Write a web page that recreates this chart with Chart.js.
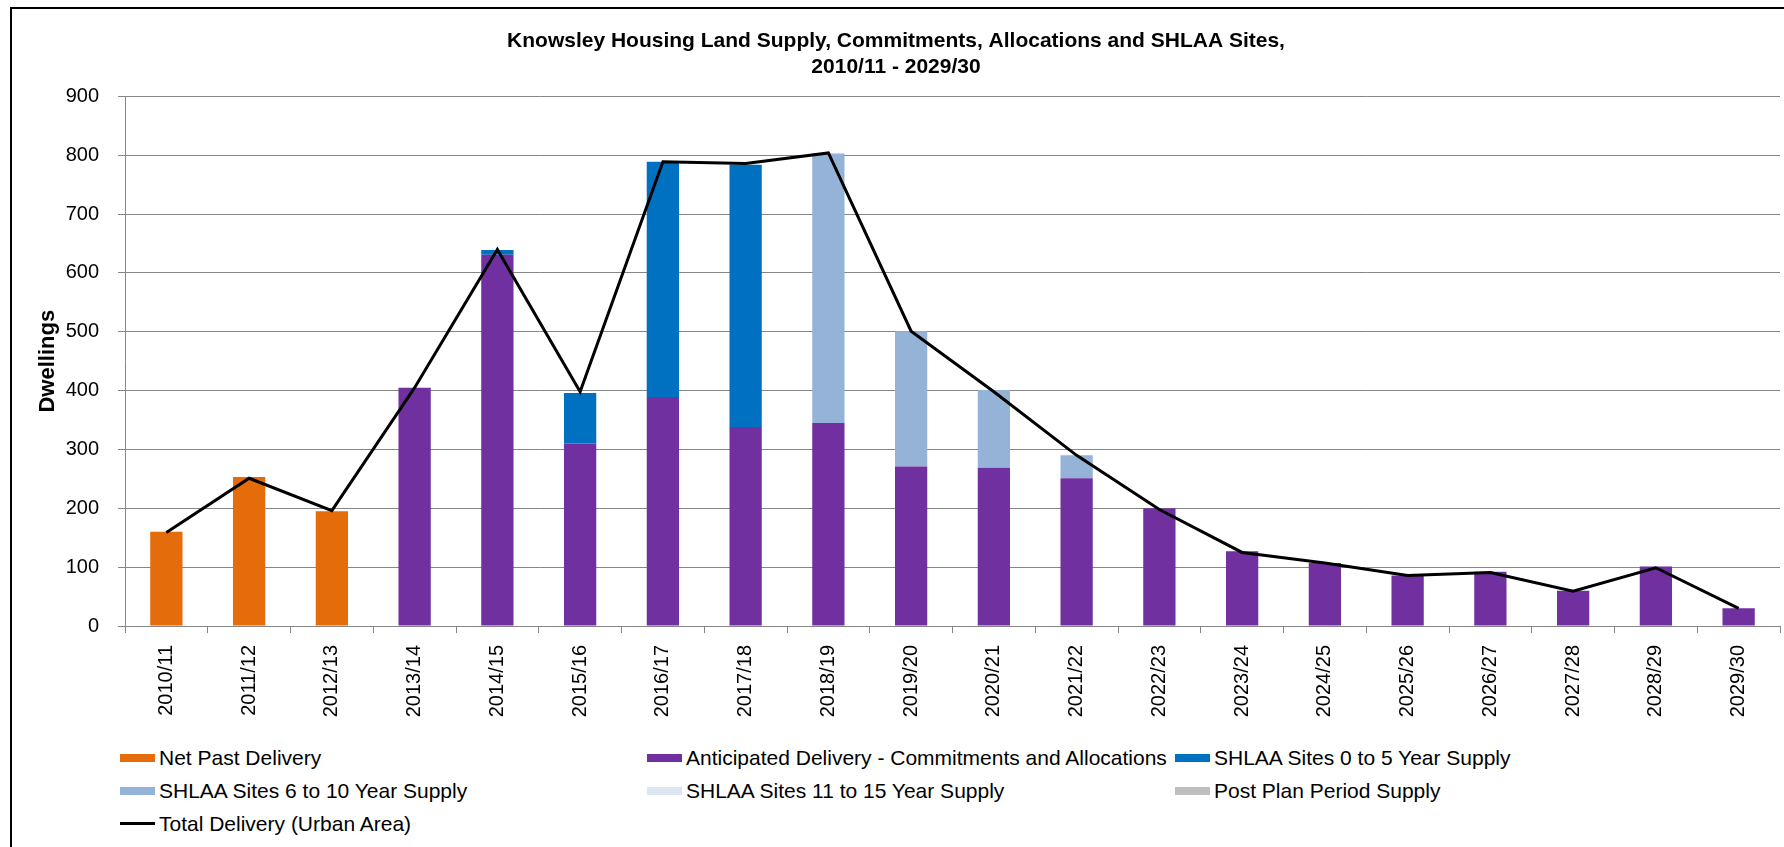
<!DOCTYPE html>
<html>
<head>
<meta charset="utf-8">
<script src="https://cdn.jsdelivr.net/npm/chart.js@4.4.1/dist/chart.umd.min.js"></script>
<style>
  html, body { margin: 0; padding: 0; background: #fff; overflow: hidden; }
  body { width: 1784px; height: 847px; position: relative; font-family: "Liberation Sans", Arial, sans-serif; }
  #frame { position: absolute; left: 10px; top: 7px; width: 1776px; height: 860px; border: 2px solid #000; }
  #wrap { position: absolute; left: 12px; top: 9px; width: 1774px; height: 720px; }
  #legend { position: absolute; left: 120px; top: 741px; display: grid;
            grid-template-columns: 527px 528px 500px; grid-auto-rows: 33px; }
  #legend .item { display: flex; align-items: center; font-size: 21px; color: #000; white-space: nowrap; }
  #legend .box { width: 35px; height: 8px; margin-right: 4px; flex: none; }
  #legend .ln { width: 35px; height: 3px; margin-right: 4px; flex: none; }
</style>
</head>
<body>
<div id="frame"></div>
<div id="wrap"><canvas id="chart"></canvas></div>
<div id="legend"></div>
<script>
// Knowsley housing land supply 2010/11 - 2029/30
const years = ['2010/11','2011/12','2012/13','2013/14','2014/15','2015/16','2016/17','2017/18','2018/19','2019/20',
               '2020/21','2021/22','2022/23','2023/24','2024/25','2025/26','2026/27','2027/28','2028/29','2029/30'];

const netPast      = [160, 253, 195, 0, 0, 0, 0, 0, 0, 0, 0, 0, 0, 0, 0, 0, 0, 0, 0, 0];
const anticipated  = [0, 0, 0, 405, 631, 310, 389, 338, 345, 271, 269, 251, 200, 127, 107, 86, 92, 60, 101, 30];
const shlaa0to5    = [0, 0, 0, 0, 8, 86, 400, 446, 0, 0, 0, 0, 0, 0, 0, 0, 0, 0, 0, 0];
const shlaa6to10   = [0, 0, 0, 0, 0, 0, 0, 0, 458, 230, 132, 39, 0, 0, 0, 0, 0, 0, 0, 0];
const shlaa11to15  = [0, 0, 0, 0, 0, 0, 0, 0, 0, 0, 0, 0, 0, 0, 0, 0, 0, 0, 0, 0];
const postPlan     = [0, 0, 0, 0, 0, 0, 0, 0, 0, 0, 0, 0, 0, 0, 0, 0, 0, 0, 0, 0];
const totalUrban   = [159, 251, 196, 405, 640, 398, 789, 786, 804, 501, 398, 290, 198, 125, 107, 86, 91, 59, 99, 30];

const yTicks = [0, 100, 200, 300, 400, 500, 600, 700, 800, 900];

const gridGrey = '#868686';

function bar(label, data, color) {
    return { type: 'bar', label: label, data: data, backgroundColor: color, borderWidth: 0,
             stack: 'supply', order: 1, categoryPercentage: 1, barPercentage: 0.39 };
}

// html legend laid out in 3 columns like the original
const htmlLegend = {
    id: 'htmlLegend',
    afterUpdate(chart) {
        const box = document.getElementById('legend');
        box.innerHTML = '';
        chart.data.datasets.forEach(ds => {
            const item = document.createElement('div');
            item.className = 'item';
            const mark = document.createElement('span');
            if (ds.type === 'line') {
                mark.className = 'ln';
                mark.style.background = ds.borderColor;
            } else {
                mark.className = 'box';
                mark.style.background = ds.backgroundColor;
            }
            const txt = document.createElement('span');
            txt.textContent = ds.label;
            item.appendChild(mark);
            item.appendChild(txt);
            box.appendChild(item);
        });
    }
};

new Chart(document.getElementById('chart'), {
    data: {
        labels: years,
        datasets: [
            bar('Net Past Delivery', netPast, '#E46C0A'),
            bar('Anticipated Delivery - Commitments and Allocations', anticipated, '#7030A0'),
            bar('SHLAA Sites 0 to 5 Year Supply', shlaa0to5, '#0070C0'),
            bar('SHLAA Sites 6 to 10 Year Supply', shlaa6to10, '#95B3D7'),
            bar('SHLAA Sites 11 to 15 Year Supply', shlaa11to15, '#DCE6F2'),
            bar('Post Plan Period Supply', postPlan, '#BFBFBF'),
            {
                type: 'line', label: 'Total Delivery (Urban Area)', data: totalUrban,
                borderColor: '#000000', backgroundColor: '#000000', borderWidth: 3,
                pointRadius: 0, tension: 0, stack: 'total', order: 0
            }
        ]
    },
    options: {
        responsive: true,
        maintainAspectRatio: false,
        animation: false,
        layout: { padding: { left: 0, right: 6, top: 0, bottom: 0 } },
        plugins: {
            legend: { display: false },
            tooltip: { enabled: false },
            title: {
                display: true,
                text: ['Knowsley Housing Land Supply, Commitments, Allocations and SHLAA Sites,', '2010/11 - 2029/30'],
                color: '#000',
                font: { family: 'Liberation Sans', size: 21, weight: 'bold', lineHeight: 1.2 },
                padding: { top: 20, bottom: 17 }
            }
        },
        scales: {
            x: {
                stacked: true,
                grid: { display: true, drawOnChartArea: false, drawTicks: true, tickLength: 7, color: gridGrey, offset: true },
                border: { display: true, color: gridGrey, width: 1 },
                ticks: { color: '#000', font: { family: 'Liberation Sans', size: 20 }, minRotation: 90, maxRotation: 90, padding: 12, autoSkip: false },
                afterFit(scale) { scale.height = 103; }
            },
            y: {
                stacked: true,
                min: 0,
                max: 900,
                afterBuildTicks(scale) { scale.ticks = yTicks.map(v => ({ value: v })); },
                grid: { color: gridGrey, lineWidth: 1, drawTicks: true, tickLength: 7 },
                border: { display: true, color: gridGrey, width: 1 },
                ticks: { color: '#000', font: { family: 'Liberation Sans', size: 20 }, padding: 19 },
                title: {
                    display: true, text: 'Dwellings', color: '#000',
                    font: { family: 'Liberation Sans', size: 22, weight: 'bold' },
                    padding: { top: 23, bottom: 0 }
                },
                afterFit(scale) { scale.width = 113; }
            }
        }
    },
    plugins: [htmlLegend]
});
</script>
</body>
</html>
